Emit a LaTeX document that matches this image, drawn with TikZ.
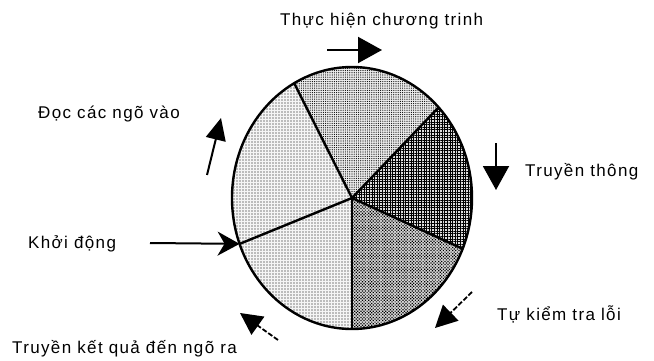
\documentclass[tikz,border=0pt]{standalone}
\usepackage{fontspec}
\setmainfont{Liberation Sans}[LetterSpace=8]
\usetikzlibrary{arrows.meta,patterns.meta}
\begin{document}
\begin{tikzpicture}[x=1pt,y=-1pt,
  lbl/.style={anchor=base west,inner sep=0pt,font=\fontsize{17}{20}\selectfont},
  bigarrow/.style={line width=2pt,-{Triangle[length=24pt,width=26pt]}},
  uparrow/.style={line width=2pt,-{Triangle[length=22pt,width=20pt]}},
  stararrow/.style={line width=2pt,-{Stealth[length=22pt,width=24pt,inset=7pt]}},
  dasharrow/.style={line width=1.8pt,dash pattern=on 5pt off 2pt,-{Triangle[length=22pt,width=22pt,sep=0pt]}},
  slice/.style={draw=black,line width=2.4pt,line join=round}]
\useasboundingbox (0,0) rectangle (654,361);
\coordinate (c) at (352,198);
% slices
\def\sl#1#2{(c) -- ++(#1:120 and 131) arc[start angle=#1,end angle=#2,x radius=120,y radius=131] -- cycle}
\fill[gray!15] \sl{-118.8}{-43.8};
\path[pattern={Dots[distance=2.2pt,radius=0.6pt]},pattern color=black] \sl{-118.8}{-43.8};
\fill[gray!25] \sl{-43.8}{22.8};
\path[pattern={Hatch[distance=2.6pt,angle=0,line width=0.4pt]},pattern color=black] \sl{-43.8}{22.8};
\fill[gray!30] \sl{22.8}{90};
\path[pattern={Dots[distance=2.2pt,radius=0.85pt,angle=45]},pattern color=black] \sl{22.8}{90};
\fill[gray!8] \sl{90}{159.5};
\path[pattern={Dots[distance=3pt,radius=0.6pt]},pattern color=black] \sl{90}{159.5};
\fill[gray!8] \sl{159.5}{241.2};
\path[pattern={Dots[distance=3pt,radius=0.6pt]},pattern color=black] \sl{159.5}{241.2};
% outline and spokes
\draw[slice] (c) ellipse[x radius=120,y radius=131];
\draw[slice] (c) -- ++(-118.8:120 and 131) coordinate (p1);
\draw[slice] (c) -- ++(-43.8:120 and 131) coordinate (p2);
\draw[slice] (c) -- ++(22.8:120 and 131) coordinate (p3);
\draw[slice] (c) -- ++(90:120 and 131) coordinate (p4);
\draw[slice] (c) -- ++(159.5:120 and 131) coordinate (p5);
% labels
\node[lbl] (t1) at (280,26) {Thực hiện chương trinh};
\node[lbl] (t2) at (38,119) {Đọc các ngõ vào};
\node[lbl] (t3) at (28,248) {Khởi động};
\node[lbl] (t4) at (12,353) {Truyền kết quả đến ngõ ra};
\node[lbl] (t5) at (525,176) {Truyền thông};
\node[lbl] (t6) at (497,320) {Tự kiểm tra lỗi};
% arrows
\coordinate (a1s) at (327,50);  \coordinate (a1e) at (382,50);
\coordinate (a2s) at (207,175); \coordinate (a2e) at (221,118);
\coordinate (a3s) at (150,243);
\coordinate (a4s) at (278,340); \coordinate (a4e) at (240,313);
\coordinate (a5s) at (496,143); \coordinate (a5e) at (496,190);
\coordinate (a6s) at (472,292); \coordinate (a6e) at (435,328);
\draw[bigarrow] (a1s) -- (a1e);
\draw[uparrow] (a2s) -- (a2e);
\draw[stararrow] (a3s) -- (p5);
\draw[dasharrow] (a4s) -- (a4e);
\draw[bigarrow] (a5s) -- (a5e);
\draw[dasharrow] (a6s) -- (a6e);
\end{tikzpicture}
\end{document}
